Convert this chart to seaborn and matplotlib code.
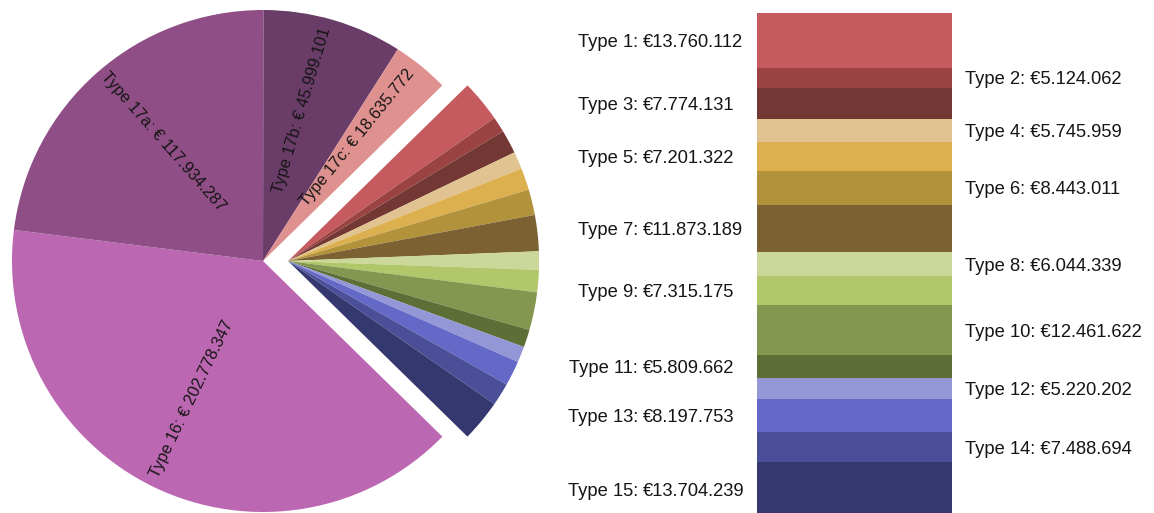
import numpy as np
import matplotlib
matplotlib.use("Agg")
import matplotlib.pyplot as plt
import matplotlib.transforms as mtransforms
import seaborn as sns

# ---------------- data ----------------
sub_labels = ["Type 1", "Type 2", "Type 3", "Type 4", "Type 5", "Type 6", "Type 7",
              "Type 8", "Type 9", "Type 10", "Type 11", "Type 12", "Type 13",
              "Type 14", "Type 15"]
sub_values = [13760112, 5124062, 7774131, 5745959, 7201322, 8443011, 11873189,
              6044339, 7315175, 12461622, 5809662, 5220202, 8197753, 7488694,
              13704239]
main_labels = ["Type 16", "Type 17a", "Type 17b", "Type 17c"]
main_values = [202778347, 117934287, 45999101, 18635772]

# ---------------- style ----------------
sub_colors = ["#c55b5e", "#9a4342", "#733834", "#e0c391", "#dcb04f", "#b3923c",
              "#7c6232", "#cbd89a", "#b2c66a", "#84964f", "#5d6e37", "#9397d6",
              "#6468c6", "#4a4f98", "#35386e"]
main_colors = ["#bb67b1", "#8f4e86", "#6a3c68", "#df918f"]

sns.set_theme(style="white")
plt.rcParams["font.family"] = ["Liberation Sans", "DejaVu Sans"]
TXT = "#151515"
BAR_FS = 13.2
PIE_FS = 11.8


def euro(v, space=False):
    s = f"{v:,}".replace(",", ".")
    return ("€ " if space else "€") + s


W, H = 1154, 513
fig = plt.figure(figsize=(W / 100, H / 100), dpi=100)
fig.patch.set_facecolor("white")

# ---------------- pie ----------------
ax = fig.add_axes([0, 0, 1, 1])
cx, cy, r = 263, H - 261, 251
all_values = sub_values + main_values
all_colors = sns.color_palette(sub_colors + main_colors)
total = float(np.sum(all_values))
group_frac = float(np.sum(sub_values)) / total
start = group_frac * 180.0

wedges, _ = ax.pie(all_values, colors=all_colors, startangle=start,
                   counterclock=False, center=(cx, cy), radius=r,
                   wedgeprops=dict(linewidth=0, antialiased=True))
# explode the whole Types 1-15 group together along its mid angle (0 deg)
dx = 0.1 * r
for w in wedges[:len(sub_values)]:
    w.set_center((cx + dx, cy))

# rotated labels on the main wedges
for w, lab, val in zip(wedges[len(sub_values):], main_labels, main_values):
    mid = (w.theta1 + w.theta2) / 2.0
    rad = np.deg2rad(mid)
    tx = cx + 0.62 * r * np.cos(rad)
    ty = cy + 0.62 * r * np.sin(rad)
    rot = mid % 360
    if np.cos(rad) < 0:
        rot = rot - 180
    if rot > 180:
        rot -= 360
    ax.text(tx, ty, f"{lab}: {euro(val, space=True)}", rotation=rot,
            rotation_mode="anchor", ha="center", va="baseline",
            fontsize=PIE_FS, color=TXT)

ax.set_xlim(0, W)
ax.set_ylim(0, H)
ax.set_aspect("equal")
ax.axis("off")

# ---------------- stacked bar ----------------
bar_top_px = 12.7
px_per_unit = 3.995e-6
bar_h_px = float(np.sum(sub_values)) * px_per_unit
axb = fig.add_axes([757 / W, (H - bar_top_px - bar_h_px) / H, 195 / W, bar_h_px / H])
bottoms = np.concatenate([[0], np.cumsum(sub_values)[:-1]])
axb.bar([0] * len(sub_values), sub_values, bottom=bottoms, width=1.0,
        color=sns.color_palette(sub_colors), linewidth=0)
axb.set_xlim(-0.5, 0.5)
axb.set_ylim(float(np.sum(sub_values)), 0)
axb.axis("off")

trans = mtransforms.blended_transform_factory(fig.transFigure, axb.transData)
for i, (lab, val, b) in enumerate(zip(sub_labels, sub_values, bottoms)):
    ymid = b + val / 2.0
    if i % 2 == 0:
        axb.text(638 / W, ymid, f"{lab}:", transform=trans, ha="right",
                 va="center_baseline", fontsize=BAR_FS, color=TXT, clip_on=False)
        axb.text(643 / W, ymid, euro(val), transform=trans, ha="left",
                 va="center_baseline", fontsize=BAR_FS, color=TXT, clip_on=False)
    else:
        axb.text(965 / W, ymid, f"{lab}: {euro(val)}", transform=trans,
                 ha="left", va="center_baseline", fontsize=BAR_FS, color=TXT,
                 clip_on=False)

fig.savefig("out.png", dpi=100, facecolor="white")
